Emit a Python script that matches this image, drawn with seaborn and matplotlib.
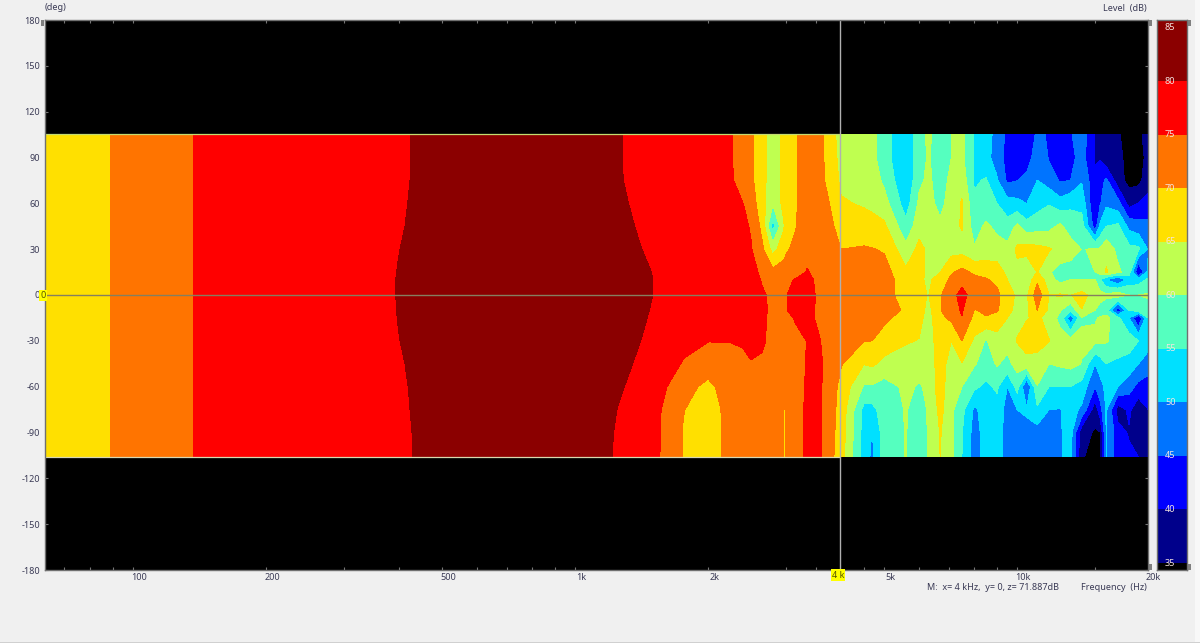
#!/usr/bin/env python3
# -*- coding: utf-8 -*-

import numpy as np
import matplotlib
matplotlib.use("Agg")
import matplotlib.pyplot as plt
import seaborn as sns
from matplotlib.colors import BoundaryNorm, ListedColormap
from matplotlib.patches import Rectangle
from matplotlib.ticker import NullFormatter
from matplotlib.transforms import ScaledTranslation

ANGLES = [105, 90, 75, 60, 45, 30, 15, 10, 0, -10, -15, -30, -45, -60, -75, -90, -106]

FREQS = [63, 89, 137, 250, 398, 500, 1000, 1250, 1400, 1600, 1760, 2000, 2150, 2250,
         2400, 2500, 2650, 2800, 2965, 2975, 3000, 3150, 3350, 3550, 3750, 4000, 4500, 4700, 5000,
         5600, 6000, 6300, 6700, 7100, 7500, 8000, 8500, 9000, 9500, 10000, 10500,
         11100, 11800, 12500, 13200, 14000, 15000, 15400, 15900, 16900, 17900, 18800, 19800]

# one line per frequency, angles from +105 down to -106
SPL = [
    [67.5] * 17,
    [70.0] * 17,
    [75.0] * 17,
    [77.6] * 17,
    [79.6, 79.6, 79.6, 79.7, 79.8, 79.95, 80.05, 80.08, 80.08, 80.05, 80.03, 79.95, 79.8, 79.68, 79.6, 79.5, 79.49],
    [81.2] * 17,
    [82.0] * 17,
    [80.2, 80.2, 80.25, 80.5, 80.8, 81.15, 81.6, 81.65, 81.65, 81.5, 81.4, 81.1, 80.7, 80.3, 79.95, 79.75, 79.65],
    [79.15, 79.15, 79.2, 79.45, 79.75, 80.1, 80.55, 80.6, 80.6, 80.45, 80.35, 80.05, 79.65, 79.25, 78.9, 78.7, 78.6],
    [78, 78, 78.1, 78.3, 78.6, 78.9, 79.3, 79.4, 79.4, 79.2, 79.1, 78.8, 77.5, 75.3, 74.2, 74, 74],
    [77, 77, 77.1, 77.4, 77.7, 78, 78.4, 78.4, 78.4, 78.2, 78, 76.6, 74.5, 72, 70.2, 69.6, 69.8],
    [76, 76, 76.1, 76.3, 76.6, 77, 77.5, 77.5, 77.4, 77.2, 77, 75.1, 73, 68.5, 66.5, 66, 66],
    [75.6, 75.6, 75.7, 75.9, 76.1, 76.5, 77, 77, 77, 76.8, 76.6, 75.1, 73.5, 71.5, 70.3, 70.2, 70.2],
    [75.3, 75.3, 75.5, 75.7, 76, 76.5, 77, 77, 77, 76.7, 76.5, 75.1, 73.7, 72.5, 72, 72, 72],
    [73, 73, 73.3, 75, 76, 76, 76.3, 76.3, 76.3, 76, 76, 75.5, 74, 73, 72.5, 72.5, 72.5],
    [70.8, 70.8, 71, 72.5, 74.6, 75.3, 75.8, 76, 76, 76, 76, 76, 74.8, 73, 72.5, 72.5, 72.5],
    [66.6, 66.6, 66.7, 67, 68.5, 71, 74.5, 74.8, 75.3, 75.5, 75.5, 75.5, 74.5, 73, 72.6, 72.6, 72.6],
    [62.5, 62.5, 62, 60.5, 53, 63, 71.5, 73, 74.5, 74.5, 74.2, 74, 73.8, 73.5, 73, 72.8, 72.8],
    [66.3, 66.3, 66.5, 66.6, 64.3, 68.2, 71.9, 73.8, 74.7, 74.7, 74, 73.6, 73.2, 72.7, 72.6, 72.6, 72.6],
    [66.6, 66.6, 66.8, 67, 65.3, 68.6, 72, 73.9, 74.8, 74.8, 74, 73.5, 73.1, 72.6, 66, 66, 66],
    [67.2, 67.2, 67.5, 68, 67, 69.4, 72, 74, 74.8, 74.8, 74, 73.5, 73, 72.5, 72.5, 72.5, 72.5],
    [69.5, 69.5, 69.5, 69.5, 69.7, 71, 73, 75.3, 76.5, 76.5, 75.3, 74, 73.5, 73.5, 73.5, 73.5, 73.5],
    [72.5, 72.5, 72.5, 72.5, 73, 73.5, 75.3, 76.5, 77, 76.5, 76, 75.1, 75.2, 75.5, 75.6, 75.7, 75.8],
    [71.5, 71.5, 71.7, 72, 72.5, 73.3, 73.5, 73.8, 74.2, 74.3, 74.4, 75.4, 76, 76, 76, 76, 76],
    [68.6, 68.6, 68.8, 70.2, 71.5, 72.5, 73, 73, 73.2, 73.2, 73.3, 73.5, 73.5, 73, 72.5, 72.3, 72],
    [62, 63, 64, 65.5, 67.7, 70, 72, 72, 71.9, 72, 72, 71, 70.3, 68.5, 68, 67.5, 67],
    [62, 62, 63, 64.5, 67, 70.5, 73, 73.3, 73.3, 73, 72.5, 70.2, 65.2, 59.5, 53.5, 53, 52.5],
    [61.5, 61.5, 62.5, 64, 66.5, 70.2, 72.5, 73, 73.2, 73, 72.2, 70, 65.8, 59.5, 53.5, 49.8, 49],
    [57, 57, 59, 62, 66, 69.5, 72, 72.5, 72.5, 73, 71, 68, 63.5, 58, 57.5, 57.5, 57.5],
    [50.5, 50.5, 50.5, 52.5, 56.5, 61.5, 66, 67, 67, 69, 68, 65.5, 62.5, 61, 60.3, 60.2, 60.2],
    [58, 58, 59, 61, 63, 66.5, 67, 66, 66, 67, 66.5, 64.8, 62, 59.5, 58, 57.5, 57.5],
    [61, 60.5, 61, 61.5, 62.5, 64, 63.5, 64, 64.8, 63.5, 63, 62.5, 61.5, 61, 60.5, 60.4, 60.3],
    [57, 57, 57.5, 58.5, 61, 63.5, 65, 67.5, 69.5, 69.8, 69, 68, 68, 68, 66.5, 65.3, 65.1],
    [60, 60, 61.5, 62.5, 63, 63, 69.5, 71, 74, 73, 71, 65, 62, 60.3, 61, 61, 61],
    [61, 61, 63, 65.5, 65.5, 63, 71.5, 74, 76, 75.5, 74.8, 70, 64.7, 60, 56.5, 55.2, 55],
    [54.8, 54.8, 54.3, 56, 57.5, 60.5, 69, 71.5, 73.5, 69.8, 68.5, 64, 60.5, 56, 49, 48, 48],
    [53, 51.5, 55.5, 56.5, 61, 62, 68, 70.5, 72, 70.5, 69.8, 59.5, 57.5, 54, 52.5, 52, 52],
    [47.5, 48, 50.5, 55, 58.5, 62.5, 67, 69, 71, 70.5, 68, 63, 60.5, 55.8, 53, 52.5, 52.5],
    [44, 43, 44, 52, 57, 61.5, 64, 65, 67.5, 67, 65, 62, 58.5, 50, 48, 48, 47.5],
    [42, 42, 44.9, 51.5, 61, 66, 63.5, 63.5, 64, 63, 63.5, 65.3, 62, 57, 50, 48.5, 48],
    [41, 40.5, 47.5, 49.9, 57, 67, 60.5, 61, 64, 64, 64.7, 67, 63.5, 44.5, 50.5, 49, 47.5],
    [46, 50, 50, 53, 58, 66.5, 65.2, 69, 73, 70, 66, 67, 63, 59.8, 54, 48, 47.5],
    [44.5, 44.5, 47.5, 54.7, 58.5, 65.5, 60.5, 62, 65, 64, 63, 65.2, 60, 55, 50, 48, 48],
    [42, 42, 44.5, 52, 61, 63.5, 58, 58.5, 65.5, 60.5, 58.5, 62, 60.8, 55, 49.8, 49.5, 49.5],
    [44.5, 43.5, 45, 54, 57.5, 62.5, 57.5, 60, 64.8, 56, 46, 62, 61.5, 55, 52, 52, 52],
    [48, 47, 49.5, 53.5, 57, 59.8, 56.5, 60, 66.5, 64.8, 59.5, 60.8, 59.8, 53, 49, 36.5, 35.5],
    [39.5, 39.5, 41, 39.5, 42, 60.5, 60, 60, 63, 60, 59.5, 61.3, 50, 45, 37, 34.5, 33],
    [38.5, 39.5, 43, 44.5, 51, 60.5, 62, 55, 62, 58, 60.5, 61, 52.5, 48, 43, 34.8, 34.5],
    [36, 36, 46, 49, 55, 63.5, 65.5, 50, 61, 57, 61.5, 60.5, 55, 51.5, 50.5, 50.5, 50.5],
    [35.5, 36.5, 37, 47, 56, 58.5, 61, 45, 63, 41, 56, 58, 54, 50, 37.5, 42, 42],
    [33, 33, 33.5, 38, 48.5, 56.5, 57.5, 52, 60, 55, 50, 57.5, 53, 47, 41, 39.5, 41],
    [33, 33, 33.5, 40, 47, 56, 38.5, 52.5, 60, 58, 39, 55, 50, 43.5, 36.5, 40, 40],
    [38.5, 36.5, 38, 41.5, 46.5, 49.5, 52, 56, 60.5, 58.5, 55, 52.5, 47, 43, 40, 39, 39.5],
]

LEVELS = [0, 35, 40, 45, 50, 55, 60, 65, 70, 75, 80, 100]
BAND_COLORS = ["#000000", "#00008B", "#0000FF", "#0074FF", "#00E0FF", "#55FFBF",
               "#BFFF50", "#FFE000", "#FF7400", "#FF0000", "#8B0000"]

X_TICKS = [100, 200, 500, 1000, 2000, 5000, 10000]
X_LABELS = ["100", "200", "500", "1k", "2k", "5k", "10k"]
X_MINOR = [70, 80, 90, 300, 400, 600, 700, 800, 900, 3000, 3500, 4500, 6000, 7000, 8000, 9000, 15000]
Y_TICKS = list(range(180, -181, -30))
LEVEL_TICKS = [85, 80, 75, 70, 65, 60, 55, 50, 45, 40, 35]

CURSOR_FREQ = 3965  # drawn marker sits just left of the 4k tick
BG = "#F0F0F0"
TXT = "#3A3A55"


def px_rect(x0, y0, x1, y1):
    return [x0 / 1200, 1 - y1 / 643, (x1 - x0) / 1200, (y1 - y0) / 643]


def fig_text(fig, x, y, s, **kw):
    kw.setdefault("fontsize", 6.5)
    kw.setdefault("color", TXT)
    kw.setdefault("va", "center")
    return fig.text(x / 1200, 1 - y / 643, s, **kw)


def px_patch(fig, x0, y0, x1, y1, color):
    r = px_rect(x0, y0, x1, y1)
    fig.add_artist(Rectangle(r[:2], r[2], r[3], transform=fig.transFigure,
                             facecolor=color, edgecolor="none"))


def main():
    sns.set_theme(style="ticks")
    plt.rcParams["font.family"] = ["Noto Sans", "DejaVu Sans"]

    fig = plt.figure(figsize=(12, 6.43), dpi=100, facecolor=BG)
    ax = fig.add_axes(px_rect(45, 20, 1148, 570), facecolor="black")
    palette = sns.color_palette(BAND_COLORS)

    z = np.array(SPL).T
    ax.contourf(FREQS, ANGLES, z, levels=LEVELS, colors=palette)
    ax.set_xscale("log")
    ax.set_xlim(63.3, 19760)
    ax.set_ylim(-180, 180)

    # edges of the measured range, zero line and marker
    edge_x = [63.3, CURSOR_FREQ]
    sns.lineplot(x=edge_x, y=[105.4, 105.4], ax=ax, color="#C4DC70", lw=0.9)
    sns.lineplot(x=edge_x, y=[-106, -106], ax=ax, color="#D8D8B0", lw=0.9)
    sns.lineplot(x=[63.3, 19760], y=[0, 0], ax=ax, color="#857F60", lw=1.0)
    ax.axvline(CURSOR_FREQ, color="#B0B0B0", lw=1.0)

    ax.set_xticks(X_TICKS, X_LABELS)
    ax.set_xticks(X_MINOR, minor=True)
    ax.xaxis.set_minor_formatter(NullFormatter())
    ax.set_yticks(Y_TICKS, [str(v) for v in Y_TICKS])
    ax.tick_params(axis="x", which="both", direction="in", length=2, width=0.8, color="#777777",
                   top=True, bottom=True)
    ax.tick_params(axis="y", direction="in", length=2.5, width=0.8, color="#777777",
                   left=True, right=True)
    ax.tick_params(axis="x", labelsize=6.5, labelcolor=TXT, pad=2.5)
    ax.tick_params(axis="y", labelsize=6.5, labelcolor=TXT, pad=3.5)
    shift = ScaledTranslation(6 / 100, 0, fig.dpi_scale_trans)
    for lab in ax.get_xticklabels():
        lab.set_transform(lab.get_transform() + shift)
    for side in ax.spines.values():
        side.set_color("#707070")
        side.set_linewidth(1.0)

    # level strip on the right
    cax = fig.add_axes(px_rect(1157, 20, 1187, 570))
    norm = BoundaryNorm(LEVELS, len(BAND_COLORS))
    edges = np.array([34.35] + LEVELS[1:-1] + [85.7])
    cax.pcolormesh([0, 1], edges, ((edges[:-1] + edges[1:]) / 2)[:, None],
                   cmap=ListedColormap(palette), norm=norm)
    cax.set_ylim(34.35, 85.7)
    cax.set_xticks([])
    cax.set_yticks(LEVEL_TICKS, [""] * len(LEVEL_TICKS))
    cax.tick_params(axis="y", direction="in", length=2.5, width=0.8, color="#777777", left=True)
    for v in LEVEL_TICKS:
        cax.text(0.44, v, str(v), color="#F4E4E0", fontsize=6.5, ha="center", va="center",
                 transform=cax.get_yaxis_transform())
    for side in cax.spines.values():
        side.set_color("#707070")
        side.set_linewidth(1.0)

    # captions
    fig_text(fig, 45, 8, "(deg)")
    fig_text(fig, 1147, 8, "Level  (dB)", ha="right")
    fig_text(fig, 1147, 587, "Frequency  (Hz)", ha="right")
    fig_text(fig, 927, 587, "M:  x= 4 kHz,  y= 0, z= 71.887dB")
    fig_text(fig, 1153, 577, "20k", ha="center")
    box = dict(facecolor="#FFFF00", edgecolor="none", pad=0.8)
    fig_text(fig, 838, 575, "4 k", ha="center", bbox=box, color="#555500", zorder=5)
    fig_text(fig, 43, 295.5, "0", ha="center", bbox=box, color="#555500", zorder=5)

    # little scroll handles at the corners, window edges
    for x0, y0 in [(41, 20), (1149, 20), (1149, 564), (1188, 564), (1188, 20)]:
        px_patch(fig, x0, y0, x0 + 3, y0 + 6, "#808080")
    px_patch(fig, 1195, 0, 1200, 643, "#F8F8F8")
    px_patch(fig, 0, 641.5, 1200, 643, "#D0D0D0")

    fig.savefig("out.png", dpi=100, facecolor=BG)


if __name__ == "__main__":
    main()
